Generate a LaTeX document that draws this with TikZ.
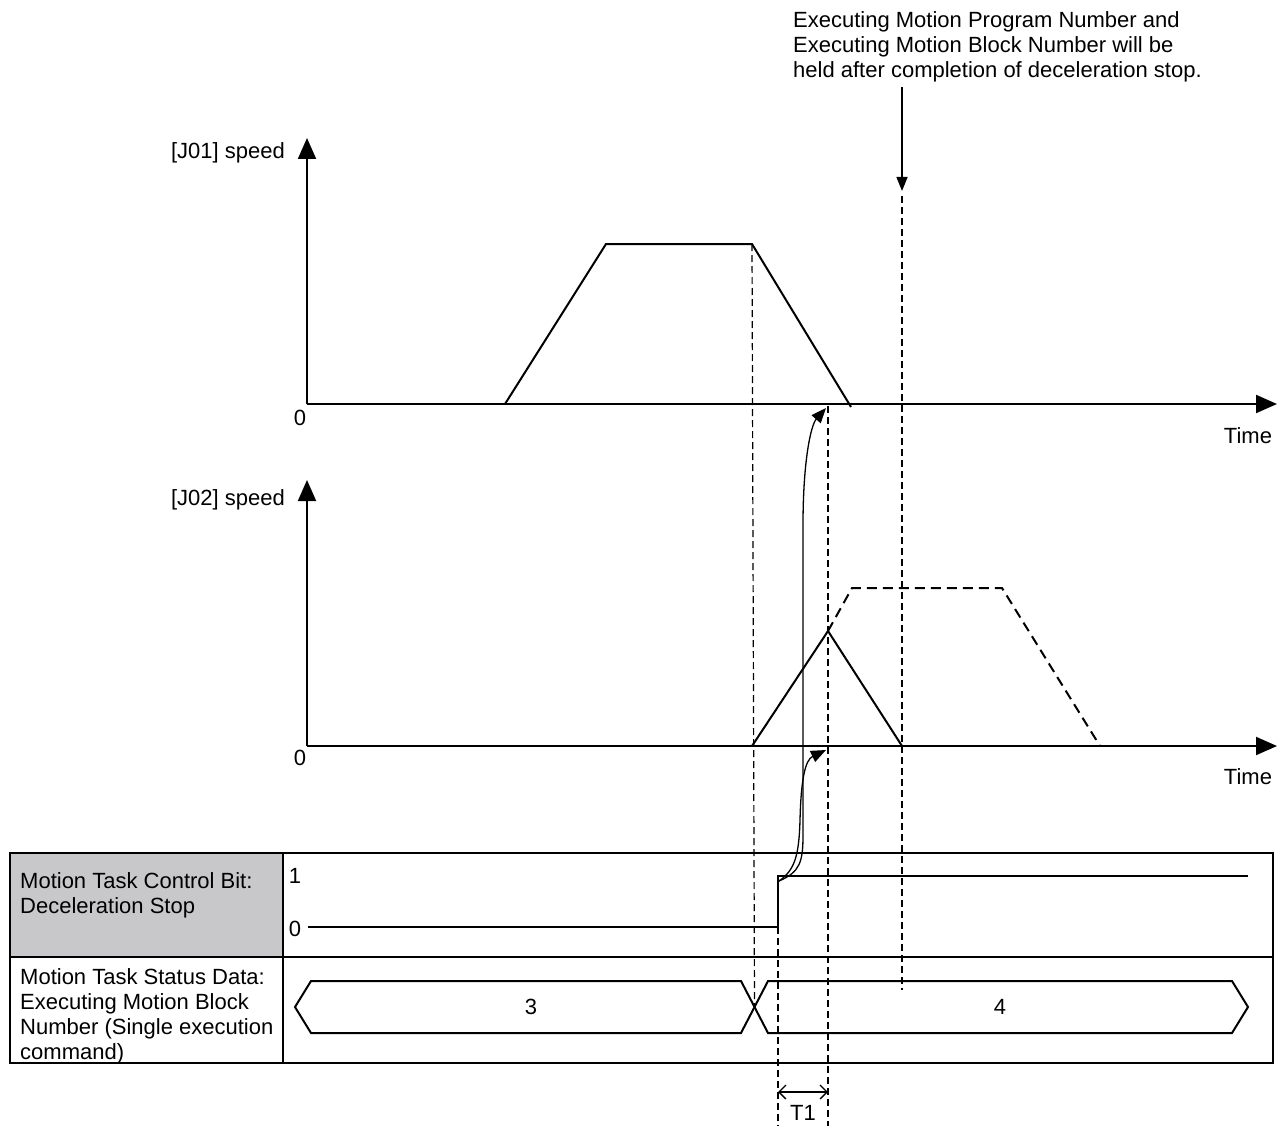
\documentclass[tikz,border=0pt]{standalone}
\usepackage{fontspec}
\setmainfont{Liberation Sans}
\usetikzlibrary{arrows.meta, positioning}
\definecolor{cellgray}{RGB}{200,200,202}

\begin{document}
\begin{tikzpicture}[x=1pt, y=-1pt, font=\fontsize{22}{25}\selectfont,
    axis/.style={line width=2pt, -{Triangle[length=21pt,width=18pt]}},
    profile/.style={line width=2pt},
    planned/.style={line width=2pt, dash pattern=on 10pt off 6pt},
    guide/.style={line width=1.2pt, dash pattern=on 7pt off 4pt},
    link/.style={line width=1.3pt, -{Triangle[length=15pt,width=12pt]}},
    txt/.style={inner sep=0pt}]
\useasboundingbox (0,0) rectangle (1284,1126);

\node[txt, anchor=north west, align=left] (note) at (793,11) {Executing Motion Program Number and\\Executing Motion Block Number will be\\held after completion of deceleration stop.};
\coordinate (notestart) at (902,87);
\coordinate (notetip) at (902,191);
\draw[line width=1.5pt, -{Triangle[length=14pt,width=11pt]}] (notestart) -- (notetip);

\coordinate (o1) at (307,404);
\coordinate (y1) at (307,138);
\coordinate (x1) at (1277,404);
\draw[axis] (o1) -- (y1);
\draw[axis] (o1) -- (x1);
\node[txt, anchor=east] (speed1) at (285,153) {[J01] speed};
\node[txt] (zero1) at (300,418) {0};
\node[txt] (time1) at (1248,436) {Time};

\coordinate (a1) at (505,404);
\coordinate (a2) at (606,244);
\coordinate (a3) at (752,244);
\coordinate (a4) at (851,407);
\draw[profile] (a1) -- (a2) -- (a3) -- (a4);

\coordinate (o2) at (307,746);
\coordinate (y2) at (307,480);
\coordinate (x2) at (1277,746);
\draw[axis] (o2) -- (y2);
\draw[axis] (o2) -- (x2);
\node[txt, anchor=east] (speed2) at (285,500) {[J02] speed};
\node[txt] (zero2) at (300,758) {0};
\node[txt] (time2) at (1248,777) {Time};

\coordinate (b1) at (752,746);
\coordinate (b2) at (828,631);
\coordinate (b3) at (902,746);
\coordinate (c1) at (852,588);
\coordinate (c2) at (1002,588);
\coordinate (c3) at (1100,746);
\draw[profile] (b1) -- (b2) -- (b3);
\draw[planned] (b2) -- (c1) -- (c2) -- (c3);

\fill[cellgray] (10,853) rectangle (283,957);
\draw[line width=1.5pt] (10,853) rectangle (1273,1063);
\draw[line width=1.5pt] (10,957) -- (1273,957);
\draw[line width=1.5pt] (283,853) -- (283,1063);
\node[txt, anchor=north west, align=left] (ctrl) at (20,872) {Motion Task Control Bit:\\Deceleration Stop};
\node[txt, anchor=north west, align=left] (status) at (20,968) {Motion Task Status Data:\\Executing Motion Block\\Number (Single execution\\command)};
\node[txt] (one) at (295,876) {1};
\node[txt] (zero) at (295,929) {0};

\coordinate (s0) at (308,927);
\coordinate (s1) at (778,927);
\coordinate (s2) at (778,876);
\coordinate (s3) at (1248,876);
\draw[profile] (s0) -- (s1) -- (s2) -- (s3);

\coordinate (cross) at (754.5,1007);
\draw[profile] (295,1007) -- (311,981) -- (741,981) -- (cross) -- (741,1033) -- (311,1033) -- cycle;
\draw[profile] (cross) -- (768,981) -- (1232,981) -- (1248,1007) -- (1232,1033) -- (768,1033) -- cycle;
\node[txt] (blk3) at (531,1007) {3};
\node[txt] (blk4) at (1000,1007) {4};

\draw[guide] (a3) -- (cross);
\draw[guide] (s1) -- (778,1126);
\draw[guide] (828,406) -- (828,1126);
\draw[guide] (902,196) -- (902,990);

\coordinate (hit1) at (826,408);
\coordinate (hit2) at (826,750);
\coordinate (corner) at (779,881);
\draw[link] (corner) .. controls (800,872) and (803,862) .. (803,835) -- (803,525) .. controls (803,460) and (811,425) .. (hit1);
\draw[link] (corner) .. controls (795,870) and (799,855) .. (800,820) .. controls (801,780) and (805,760) .. (hit2);

\coordinate (t1a) at (778,1092);
\coordinate (t1b) at (828,1092);
\draw[line width=1.3pt, {Straight Barb[length=7pt,width=14pt]}-{Straight Barb[length=7pt,width=14pt]}] (t1a) -- (t1b);
\node[txt] (t1) at (803,1113) {T1};
\end{tikzpicture}
\end{document}
